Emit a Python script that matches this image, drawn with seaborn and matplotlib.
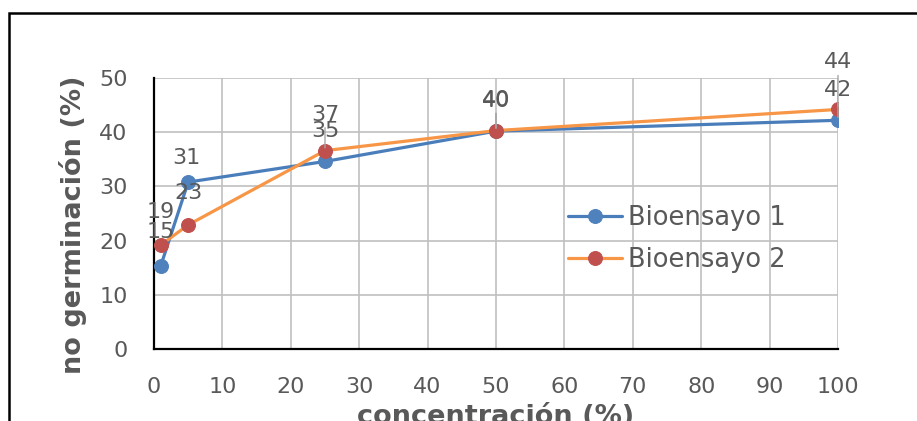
import numpy as np
import pandas as pd
import seaborn as sns
import matplotlib.pyplot as plt
from matplotlib.patches import Rectangle

# Data
concentracion = [1, 5, 25, 50, 100]
bioensayo_1 = [15.4, 30.8, 34.6, 40.2, 42.2]
bioensayo_2 = [19.2, 22.9, 36.6, 40.3, 44.2]
series_names = ['Bioensayo 1', 'Bioensayo 2']
x_ticks = [0, 10, 20, 30, 40, 50, 60, 70, 80, 90, 100]
y_ticks = [0, 10, 20, 30, 40, 50]

df = pd.DataFrame({
    'concentracion': concentracion * 2,
    'valor': bioensayo_1 + bioensayo_2,
    'serie': [series_names[0]] * 5 + [series_names[1]] * 5,
})

sns.set_style('white')
plt.rcParams['font.family'] = ['DejaVu Sans']

grey = '#595959'
line_colors = ['#4a7ebb', '#f79646']
marker_colors = ['#4f81bd', '#c0504d']

fig = plt.figure(figsize=(9.17, 4.21), dpi=100)
ax = fig.add_axes([154 / 917, 1 - 349 / 421, 684 / 917, 271 / 421])

for i, name in enumerate(series_names):
    sub = df[df['serie'] == name]
    sns.lineplot(data=sub, x='concentracion', y='valor', ax=ax, label=name,
                 color=line_colors[i], marker='o', markersize=10, lw=2.3,
                 markerfacecolor=marker_colors[i], markeredgecolor=marker_colors[i],
                 zorder=3 + i)

ax.set_xlim(0, 100)
ax.set_ylim(0, 50)
ax.set_xticks(x_ticks)
ax.set_yticks(y_ticks)
ax.grid(True, color='#c0c0c0', lw=1.2)
ax.set_axisbelow(True)
ax.tick_params(axis='both', length=0, labelsize=16, colors=grey)
ax.tick_params(axis='y', pad=19)
ax.tick_params(axis='x', pad=20)
for s in ['top', 'right']:
    ax.spines[s].set_visible(False)
for s in ['left', 'bottom']:
    ax.spines[s].set_color('black')
    ax.spines[s].set_linewidth(1.6)
    ax.spines[s].set_zorder(2.5)

ax.set_xlabel('concentración (%)', fontsize=19.5, fontweight='bold', color=grey, va='center')
ax.xaxis.set_label_coords(0.5, (349 - 417) / 271)
ax.set_ylabel('no germinación (%)', fontsize=19.5, fontweight='bold', color=grey, va='center')
ax.yaxis.set_label_coords((73 - 154) / 684, (349 - 225) / 271)

# data labels (offsets in points, leader line flag)
offsets_1 = [(0, 24), (-1, 17), (0, 22), (0, 22), (0, 22)]
offsets_2 = [(0, 24), (0, 23), (0, 26), (0, 22), (0, 34)]
leaders_1 = [False, False, False, True, True]
leaders_2 = [False, False, True, True, True]
for vals, offs, leads in [(bioensayo_1, offsets_1, leaders_1), (bioensayo_2, offsets_2, leaders_2)]:
    for x, y, off, lead in zip(concentracion, vals, offs, leads):
        kw = {}
        if lead:
            kw['arrowprops'] = dict(arrowstyle='-', color='#a6a6a6', lw=1, shrinkA=0, shrinkB=2)
        ax.annotate(f'{y:.0f}', (x, y), xytext=off, textcoords='offset points',
                    ha='center', va='center', fontsize=16, color=grey,
                    annotation_clip=False, zorder=6, **kw)

leg = ax.legend(loc='upper left', bbox_to_anchor=((568 - 154) / 684, (349 - 205) / 271),
                frameon=False, fontsize=18.5, handlelength=2.1, handletextpad=0.25,
                labelspacing=0.62, borderpad=0, borderaxespad=0)
for t in leg.get_texts():
    t.set_color(grey)

# outer frame of the chart object
fig.patches.append(Rectangle((9 / 917, -0.2), 1.2, 1 - 13 / 421 + 0.2,
                             transform=fig.transFigure, fill=False,
                             edgecolor='black', lw=1.8))

fig.savefig('out.png', dpi=100)
